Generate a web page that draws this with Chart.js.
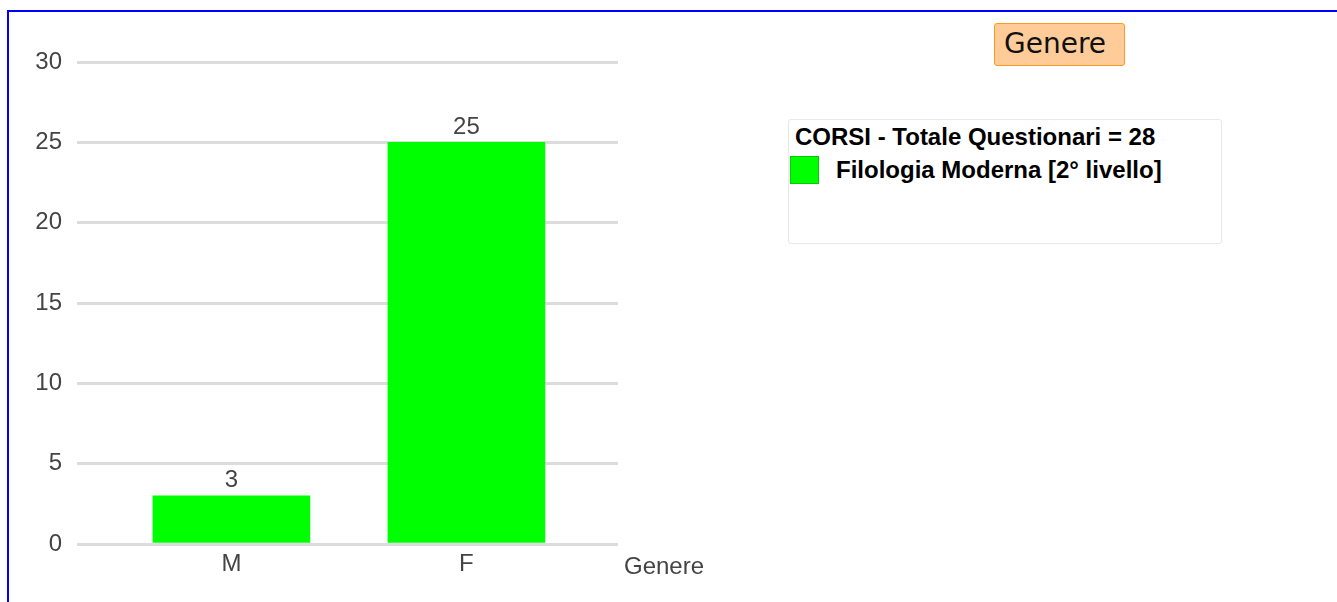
<!DOCTYPE html>
<html>
<head>
<meta charset="utf-8">
<script src="https://cdn.jsdelivr.net/npm/chart.js@4"></script>
<style>
    body { margin: 0; width: 1337px; height: 602px; overflow: hidden; background: #fff; font-family: "Liberation Sans", Arial, sans-serif; }
    .frame { position: absolute; left: 7px; top: 10px; width: 1400px; height: 700px; border: 2px solid #0000ff; }
    #chartBox { position: absolute; left: 0; top: 0; width: 720px; height: 602px; }
    .btn { position: absolute; left: 994px; top: 23px; width: 131px; height: 43px; box-sizing: border-box;
        background: #ffcc99; border: 1px solid #ff9922; border-radius: 3px;
        font: 28px "DejaVu Sans", sans-serif; line-height: 40px; padding-left: 9px; color: #111; }
    .legend { position: absolute; left: 788px; top: 119px; width: 434px; height: 125px; box-sizing: border-box;
        border: 1px solid #e8e8e8; border-radius: 3px; }
    .legend .title { position: absolute; left: 6px; top: 3px; font: bold 24px "Liberation Sans", Arial, sans-serif; color: #000; white-space: nowrap; }
    .legend .sw { position: absolute; left: 1px; top: 36px; width: 29px; height: 28px; box-sizing: border-box; border: 1px solid #00cc00; }
    .legend .lbl { position: absolute; left: 47px; top: 36px; font: bold 24px "Liberation Sans", Arial, sans-serif; color: #000; white-space: nowrap; }
</style>
</head>
<body>
<div class="frame"></div>
<div id="chartBox"><canvas id="chart"></canvas></div>
<div class="btn">Genere</div>
<div class="legend" id="legend"></div>

<script>
const categories = ['M', 'F'];
const counts = [3, 25];
const seriesName = 'Filologia Moderna [2° livello]';
const legendTitle = 'CORSI - Totale Questionari = ';
const axisName = 'Genere';
const barColor = '#00ff00';

const total = counts.reduce((a, b) => a + b, 0);

// value labels above each bar
const valueLabels = {
    id: 'valueLabels',
    afterDatasetsDraw(chart) {
        const ctx = chart.ctx;
        ctx.save();
        ctx.font = '24px "Liberation Sans", Arial, sans-serif';
        ctx.fillStyle = '#444';
        ctx.textAlign = 'center';
        ctx.textBaseline = 'middle';
        chart.getDatasetMeta(0).data.forEach((bar, i) => {
            ctx.fillText(String(counts[i]), bar.x, bar.y - 15);
        });
        // axis name to the right of the category axis
        ctx.textAlign = 'left';
        ctx.textBaseline = 'alphabetic';
        ctx.fillText(axisName, chart.chartArea.right + 6, chart.chartArea.bottom + 30);
        ctx.restore();
    }
};

new Chart(document.getElementById('chart'), {
    type: 'bar',
    data: {
        datasets: [{
            label: seriesName,
            data: counts.map((v, i) => ({x: i, y: v})),
            backgroundColor: barColor,
            borderWidth: 0,
            barThickness: 157
        }]
    },
    options: {
        responsive: true,
        maintainAspectRatio: false,
        animation: false,
        layout: {padding: {top: 62, right: 102, left: 0, bottom: 0}},
        plugins: {legend: {display: false}, tooltip: {enabled: false}},
        scales: {
            x: {
                type: 'linear',
                offset: false,
                min: -0.657,
                max: 1.645,
                grid: {display: false, offset: false},
                border: {display: false},
                afterBuildTicks: axis => { axis.ticks = categories.map((c, i) => ({value: i})); },
                afterFit: axis => { axis.height = 58; },
                ticks: {
                    callback: v => categories[v],
                    color: '#444',
                    padding: -2,
                    font: {family: '"Liberation Sans", Arial, sans-serif', size: 24}
                }
            },
            y: {
                min: 0,
                max: 30,
                grid: {color: '#dcdcdc', lineWidth: 3, drawTicks: false},
                border: {display: false},
                afterFit: axis => { axis.width = 77; },
                ticks: {
                    stepSize: 5,
                    color: '#444',
                    padding: 15,
                    font: {family: '"Liberation Sans", Arial, sans-serif', size: 24}
                }
            }
        }
    },
    plugins: [valueLabels]
});

document.getElementById('legend').innerHTML =
    '<div class="title">' + legendTitle + total + '</div>' +
    '<div class="sw" style="background:' + barColor + '"></div>' +
    '<div class="lbl">' + seriesName + '</div>';
</script>
</body>
</html>
